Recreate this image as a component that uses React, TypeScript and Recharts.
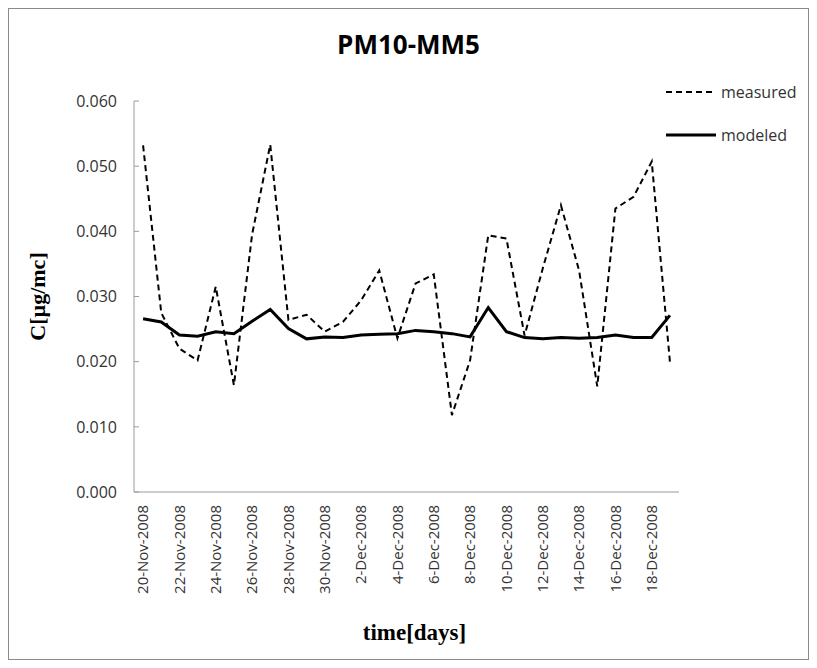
import { LineChart, Line, XAxis, YAxis, Legend } from 'recharts'

const dates = [
    '20-Nov-2008', '21-Nov-2008', '22-Nov-2008', '23-Nov-2008', '24-Nov-2008', '25-Nov-2008',
    '26-Nov-2008', '27-Nov-2008', '28-Nov-2008', '29-Nov-2008', '30-Nov-2008',
    '1-Dec-2008', '2-Dec-2008', '3-Dec-2008', '4-Dec-2008', '5-Dec-2008', '6-Dec-2008',
    '7-Dec-2008', '8-Dec-2008', '9-Dec-2008', '10-Dec-2008', '11-Dec-2008', '12-Dec-2008',
    '13-Dec-2008', '14-Dec-2008', '15-Dec-2008', '16-Dec-2008', '17-Dec-2008', '18-Dec-2008',
    '19-Dec-2008',
]

const measured = [
    0.0532, 0.0275, 0.0220, 0.0202, 0.0315, 0.0164, 0.0395, 0.0533, 0.0264, 0.0272,
    0.0246, 0.0261, 0.0294, 0.0340, 0.0236, 0.0320, 0.0334, 0.0118, 0.0202, 0.0394,
    0.0389, 0.0240, 0.0343, 0.0440, 0.0340, 0.0162, 0.0435, 0.0453, 0.0507, 0.0200,
]

const modeled = [
    0.0266, 0.0261, 0.0241, 0.0239, 0.0246, 0.0243, 0.0262, 0.0280, 0.0251, 0.0235,
    0.0238, 0.0237, 0.0241, 0.0242, 0.0243, 0.0248, 0.0246, 0.0243, 0.0238, 0.0283,
    0.0246, 0.0237, 0.0235, 0.0237, 0.0236, 0.0237, 0.0241, 0.0237, 0.0237, 0.0271,
]

const yTicks = [0, 0.01, 0.02, 0.03, 0.04, 0.05, 0.06]

const data = dates.map((d, i) => ({ idx: i, date: d, measured: measured[i], modeled: modeled[i] }))
// labels every second day, tick marks on the day boundaries (Excel style)
const labelTicks = data.filter((_, i) => i % 2 === 0).map(d => d.idx)
const boundaryTicks = Array.from({ length: dates.length / 2 + 1 }, (_, k) => k * 2 - 0.5)
const xDomain = [-0.5, dates.length - 0.5]

const FONT = '"Open Sans", sans-serif'
const SERIF = '"Liberation Serif", "Times New Roman", serif'

const DateTick = (props: any) => {
    const { x, y, payload } = props
    return (
        <text x={x} y={y} dy="0.35em" transform={`rotate(-90, ${x}, ${y})`} textAnchor="end"
            fill="#333" fontSize={15} fontFamily={FONT}>
            {dates[payload.value]}
        </text>
    )
}

const LegendBox = (props: any) => (
    <div style={{ fontFamily: FONT, fontSize: 16, color: '#333' }}>
        {props.payload.map((entry: any) => (
            <div key={entry.value} style={{ display: 'flex', alignItems: 'center', height: 43 }}>
                <svg width={56} height={10}>
                    <line x1={3} x2={53} y1={5} y2={5} stroke="#000"
                        strokeWidth={entry.payload.strokeWidth}
                        strokeDasharray={entry.payload.strokeDasharray} />
                </svg>
                <span style={{ marginLeft: 2 }}>{entry.value}</span>
            </div>
        ))}
    </div>
)

const App = () => {
    return (
        <div style={{ position: 'relative', width: 801, height: 652, border: '1px solid #8a8a8a', boxSizing: 'border-box', background: '#fff' }}>
            <div style={{ position: 'absolute', top: 22, left: 0, width: '100%', textAlign: 'center', fontFamily: FONT, fontWeight: 700, fontSize: 26, lineHeight: 1, color: '#000' }}>
                PM10-MM5
            </div>
            <LineChart width={799} height={650} data={data} margin={{ top: 92, right: 129, left: 0, bottom: 17 }}>
                {/* axis line + boundary ticks, sits right under the plot */}
                <XAxis xAxisId={0} type="number" domain={xDomain} ticks={boundaryTicks}
                    allowDataOverflow height={1} tick={false} tickSize={-6}
                    stroke="#9a9a9a" />
                <XAxis xAxisId="labels" dataKey="idx" type="number" domain={xDomain} ticks={labelTicks} interval={0}
                    height={149} axisLine={false} tickLine={false} tickSize={0} tickMargin={12}
                    tick={<DateTick />}
                    label={{
                        content: (p: any) => (
                            <text x={p.viewBox.x + p.viewBox.width / 2 + 8} y={p.viewBox.y + 147}
                                textAnchor="middle" fontFamily={SERIF} fontWeight={700} fontSize={23} fill="#000">
                                time[days]
                            </text>
                        ),
                    }} />
                <YAxis type="number" domain={[0, 0.06]} ticks={yTicks} width={125} interval={0}
                    tickFormatter={(v: number) => v.toFixed(3)} tickSize={-5} tickMargin={22}
                    stroke="#9a9a9a"
                    tick={{ fill: '#333', fontSize: 16, fontFamily: FONT }}
                    label={{
                        content: (p: any) => {
                            const cx = p.viewBox.x + 36
                            const cy = p.viewBox.y + p.viewBox.height / 2
                            return (
                                <text x={cx} y={cy} transform={`rotate(-90, ${cx}, ${cy})`} textAnchor="middle"
                                    fontFamily={SERIF} fontWeight={700} fontSize={22} fill="#000">
                                    C[µg/mc]
                                </text>
                            )
                        },
                    }} />
                <Legend layout="vertical" align="center" verticalAlign="middle" content={<LegendBox />}
                    wrapperStyle={{ position: 'absolute', left: 654, top: 61, width: 145, height: 90 }} />
                <Line xAxisId="labels" type="linear" dataKey="measured" name="measured" stroke="#000" strokeWidth={2}
                    strokeDasharray="6 4" dot={false} isAnimationActive={false} />
                <Line xAxisId="labels" type="linear" dataKey="modeled" name="modeled" stroke="#000" strokeWidth={3}
                    dot={false} isAnimationActive={false} />
            </LineChart>
        </div>
    )
}

export default App
